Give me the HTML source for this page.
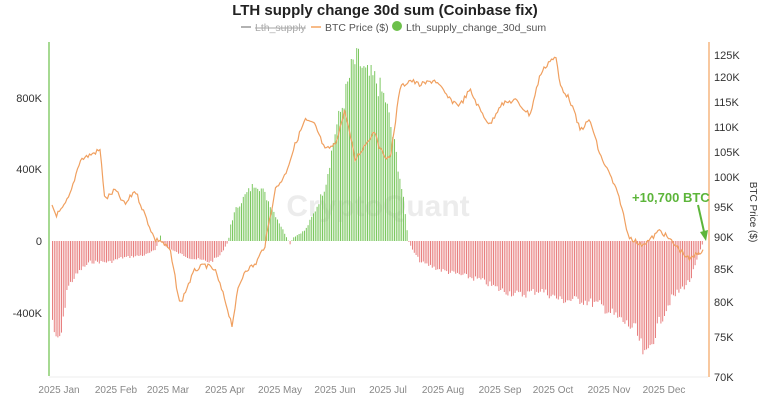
<!DOCTYPE html><html><head><style>
body{margin:0;background:#fff;font-family:"Liberation Sans",sans-serif}
</style></head><body>
<svg width="770" height="400" xmlns="http://www.w3.org/2000/svg" font-family="Liberation Sans, sans-serif">
<text x="385" y="15" text-anchor="middle" font-size="15" font-weight="bold" fill="#222">LTH supply change 30d sum (Coinbase fix)</text>
<g font-size="10.5" fill="#555">
<line x1="241" y1="27" x2="251" y2="27" stroke="#999" stroke-width="1.5"/><text x="255" y="31" fill="#aaa" text-decoration="line-through">Lth_supply</text>
<line x1="311" y1="27" x2="321" y2="27" stroke="#f4a460" stroke-width="1.5"/><text x="325" y="31">BTC Price ($)</text>
<circle cx="397" cy="26" r="5" fill="#6cc04a"/><text x="406" y="31">Lth_supply_change_30d_sum</text>
</g>
<text x="378" y="216" text-anchor="middle" font-size="30" fill="#ececec" font-weight="bold">CryptoQuant</text>
<line x1="49" y1="42" x2="49" y2="376" stroke="#6cc04a" stroke-width="1.2"/>
<line x1="709" y1="42" x2="709" y2="377" stroke="#f4a460" stroke-width="1.2"/>
<line x1="49" y1="377" x2="708" y2="377" stroke="#eee"/>
<g id="bars"></g>
<polyline id="price" fill="none" stroke="#f0a060" stroke-width="1.2"/>
<g font-size="11" fill="#333" text-anchor="end">
<text x="42" y="102">800K</text><text x="42" y="173">400K</text><text x="42" y="245">0</text><text x="42" y="317">-400K</text>
</g>
<g font-size="11" fill="#333">
<text x="714" y="59">125K</text><text x="714" y="81">120K</text><text x="714" y="106">115K</text><text x="714" y="131">110K</text><text x="714" y="156">105K</text><text x="714" y="181">100K</text><text x="714" y="211">95K</text><text x="714" y="241">90K</text><text x="714" y="273">85K</text><text x="714" y="306">80K</text><text x="714" y="341">75K</text><text x="714" y="381">70K</text>
</g>
<text x="750" y="212" font-size="10" fill="#333" transform="rotate(90 750 212)" text-anchor="middle">BTC Price ($)</text>
<g font-size="10" fill="#888" text-anchor="middle">
<text x="59" y="393">2025 Jan</text><text x="116" y="393">2025 Feb</text><text x="168" y="393">2025 Mar</text><text x="225" y="393">2025 Apr</text><text x="280" y="393">2025 May</text><text x="335" y="393">2025 Jun</text><text x="388" y="393">2025 Jul</text><text x="443" y="393">2025 Aug</text><text x="500" y="393">2025 Sep</text><text x="553" y="393">2025 Oct</text><text x="609" y="393">2025 Nov</text><text x="664" y="393">2025 Dec</text>
</g>
<text x="632" y="202" font-size="13" font-weight="bold" fill="#5cb53a">+10,700 BTC</text>
<line x1="698" y1="205" x2="705" y2="236" stroke="#5cb53a" stroke-width="2"/>
<polygon points="700,232 708,230 706,241" fill="#5cb53a"/>
</svg>
<script>
function interp(k,x){for(let i=0;i<k.length-1;i++){if(x>=k[i][0]&&x<=k[i+1][0]){let t=(x-k[i][0])/(k[i+1][0]-k[i][0]);return k[i][1]+t*(k[i+1][1]-k[i][1]);}}return k[k.length-1][1];}
const B=[[52,320],[56,345],[62,330],[66,290],[72,280],[80,270],[90,262],[110,262],[120,258],[145,255],[155,250],[158,241],[160,236],[163,245],[175,252],[190,258],[210,262],[220,255],[228,241],[230,225],[235,210],[245,195],[255,183],[262,190],[270,205],[280,225],[288,241],[290,245],[292,238],[305,230],[315,210],[325,185],[335,130],[345,95],[352,65],[358,60],[365,75],[375,80],[385,100],[395,150],[403,200],[408,241],[412,250],[420,262],[440,270],[460,275],[480,280],[500,290],[520,295],[540,290],[560,300],[580,300],[600,305],[620,320],[635,330],[645,360],[650,345],[660,320],[670,300],[680,290],[690,280],[695,265],[700,250],[703,241]];
const P=[[52,205],[56,215],[62,210],[70,195],[80,160],[90,155],[100,150],[105,200],[115,190],[125,205],[135,190],[145,215],[155,240],[160,240],[170,250],[180,305],[188,285],[195,270],[205,265],[215,270],[225,300],[232,325],[238,290],[245,270],[255,265],[265,245],[275,190],[285,175],[295,145],[305,120],[315,125],[325,150],[335,145],[345,110],[355,160],[365,145],[375,130],[380,150],[390,160],[400,88],[410,80],[420,85],[435,80],[450,100],[460,105],[470,90],[480,110],[490,125],[500,105],[515,100],[530,115],[540,75],[550,60],[556,58],[560,85],[570,100],[580,130],[590,120],[600,155],[610,175],[620,200],[628,235],[640,245],[650,240],[660,230],[670,240],[680,250],[690,260],[695,255],[703,250]];
let s=7,r=()=>{s=(s*9301+49297)%233280;return s/233280;};
let h='';
for(let x=52;x<=703;x+=1.8){let y=interp(B,x);y=241+(y-241)*(0.92+0.16*r());let c=y<241?'#7cc860':'#e88080';let t=Math.min(y,241),hh=Math.abs(y-241);h+=`<rect x="${x.toFixed(1)}" y="${t.toFixed(1)}" width="1" height="${hh.toFixed(1)}" fill="${c}"/>`;}
document.getElementById('bars').innerHTML=h;
let pts=[];for(let x=52;x<=703;x+=1.5){pts.push(x.toFixed(1)+','+(interp(P,x)+(r()-0.5)*5).toFixed(1));}
document.getElementById('price').setAttribute('points',pts.join(' '));
</script>
</body></html>
